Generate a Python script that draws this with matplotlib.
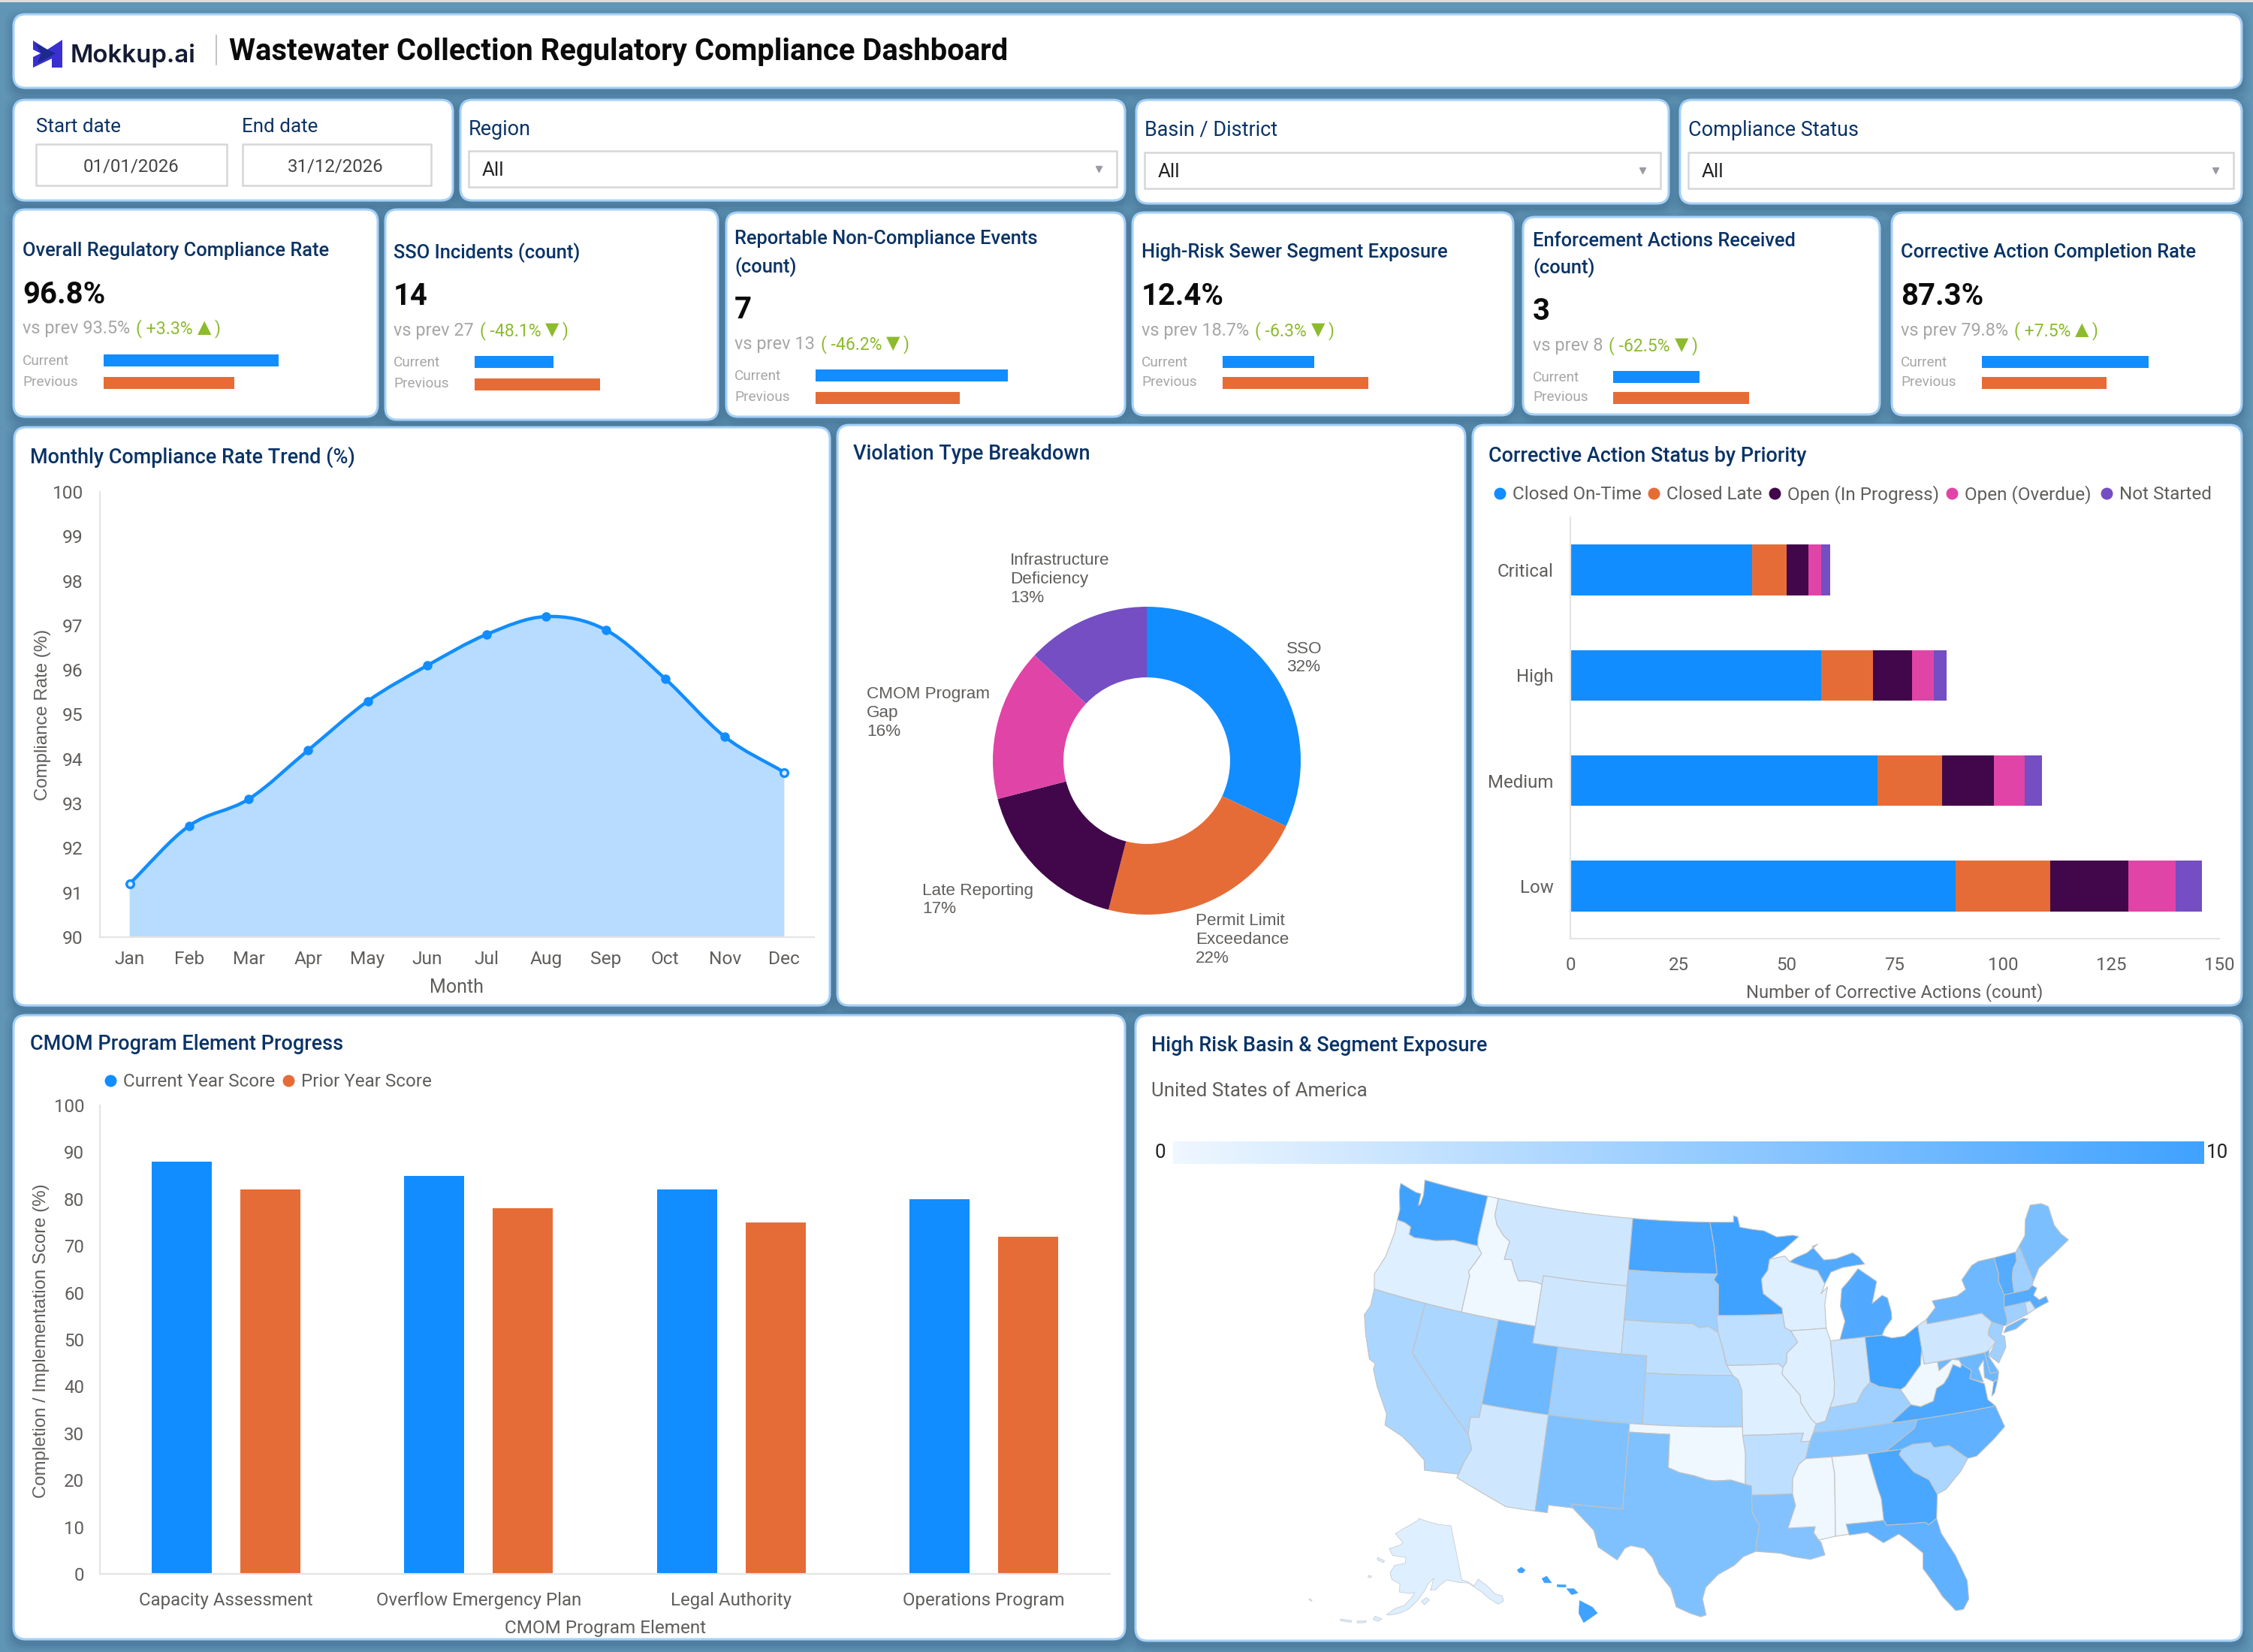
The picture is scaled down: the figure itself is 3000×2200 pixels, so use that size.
import math
import matplotlib
matplotlib.use("Agg")
import matplotlib.pyplot as plt
import numpy as np
from matplotlib.colors import LinearSegmentedColormap, Normalize
from matplotlib.patches import FancyBboxPatch, PathPatch, Polygon, Rectangle
from matplotlib.path import Path

W, H = 3000, 2200
PX = 0.72  # pixels to points at 100 dpi

BLUE, ORANGE, PLUM, PINK, VIOLET = "#118DFF", "#E66C37", "#41074A", "#E044A7", "#744EC2"
NAVY = "#0A3366"
GREY = "#605E5C"
PAGE = "#6195B6"

# ---------- chart data ----------
kpi_titles = [["Overall Regulatory Compliance Rate"], ["SSO Incidents (count)"],
              ["Reportable Non-Compliance Events", "(count)"], ["High-Risk Sewer Segment Exposure"],
              ["Enforcement Actions Received", "(count)"], ["Corrective Action Completion Rate"]]
kpi_current = [96.8, 14, 7, 12.4, 3, 87.3]
kpi_previous = [93.5, 27, 13, 18.7, 8, 79.8]
kpi_current_text = ["96.8%", "14", "7", "12.4%", "3", "87.3%"]
kpi_previous_text = ["vs prev 93.5%", "vs prev 27", "vs prev 13", "vs prev 18.7%", "vs prev 8", "vs prev 79.8%"]
kpi_delta_text = ["+3.3%", "-48.1%", "-46.2%", "-6.3%", "-62.5%", "+7.5%"]
kpi_delta_up = [True, False, False, False, False, True]
# each mini bar axis starts at its own origin and has its own scale
kpi_axis_origin = [83.77, -8.0, 31.0, 1.73, -5.71, 57.6]
kpi_axis_scale = [17.88, 4.77, -10.67, 11.43, 13.2, 7.47]

months = ["Jan", "Feb", "Mar", "Apr", "May", "Jun", "Jul", "Aug", "Sep", "Oct", "Nov", "Dec"]
compliance = [91.2, 92.5, 93.1, 94.2, 95.3, 96.1, 96.8, 97.2, 96.9, 95.8, 94.5, 93.7]

violation_labels = ["SSO", "Permit Limit\nExceedance", "Late Reporting", "CMOM Program\nGap", "Infrastructure\nDeficiency"]
violation_share = [32, 22, 17, 16, 13]

priorities = ["Critical", "High", "Medium", "Low"]
status_names = ["Closed On-Time", "Closed Late", "Open (In Progress)", "Open (Overdue)", "Not Started"]
closed_on_time = [42, 58, 71, 89]
closed_late = [8, 12, 15, 22]
open_in_progress = [5, 9, 12, 18]
open_overdue = [3, 5, 7, 11]
not_started = [2, 3, 4, 6]

cmom_elements = ["Capacity Assessment", "Overflow Emergency Plan", "Legal Authority", "Operations Program"]
current_year_score = [88, 85, 82, 80]
prior_year_score = [82, 78, 75, 72]

exposure = {
    "WA": 10, "OR": 1, "ID": 0, "MT": 1.9, "WY": 1.9, "ND": 9.6, "SD": 4.6, "NE": 2.8, "KS": 3.9, "CO": 4.6,
    "UT": 7.4, "NV": 3.9, "CA": 3.9, "AZ": 1.9, "NM": 6.4, "TX": 6.4, "OK": 0, "MN": 10, "IA": 2.8, "MO": 1,
    "AR": 2.8, "LA": 6.2, "WI": 1, "IL": 1, "IN": 1.9, "MI": 9, "MIU": 9, "OH": 10, "KY": 4.6, "TN": 6,
    "MS": 0, "AL": 0, "GA": 9.4, "FL": 8.2, "SC": 3.9, "NC": 8.2, "VA": 9.3, "VAE": 9.3, "WV": 0, "MD": 7.4,
    "DE": 7.4, "PA": 1.9, "NJ": 4.6, "NY": 7.4, "LI": 7.4, "CT": 4.6, "RI": 1.9, "MA": 8.8, "VT": 8.8,
    "NH": 4.6, "ME": 6.6, "AK": 1, "HI": 10,
}

# state outlines as (longitude, latitude)
states = {
    "WA": [(-124.7,48.4),(-123.2,48.15),(-122.75,48.15),(-122.68,47.45),(-122.55,47.55),(-122.5,48.1),(-122.6,48.5),(-122.75,49),(-117.03,49),(-117.04,46.42),(-116.92,45.99),(-118.98,46),(-119.3,45.93),(-120.5,45.7),(-121.2,45.65),(-122.25,45.55),(-122.75,45.65),(-122.8,46.1),(-123.4,46.25),(-124.05,46.27),(-124.1,46.9),(-124.6,47.9)],
    "OR": [(-124.05,46.27),(-123.4,46.25),(-122.8,46.1),(-122.75,45.65),(-122.25,45.55),(-121.2,45.65),(-120.5,45.7),(-119.3,45.93),(-118.98,46),(-116.92,45.99),(-116.46,45.6),(-116.85,44.95),(-117.2,44.4),(-117.03,44.2),(-117.03,42),(-124.2,42),(-124.55,42.85),(-124.1,44),(-123.95,45.5)],
    "ID": [(-117.03,49),(-116.05,49),(-116.05,48),(-115.7,47.45),(-114.95,46.9),(-114.35,46.65),(-114.5,45.55),(-113.9,45.6),(-113.45,44.95),(-113,44.45),(-112.3,44.55),(-111.5,44.55),(-111.05,44.48),(-111.05,42),(-117.03,42),(-117.03,44.2),(-117.2,44.4),(-116.85,44.95),(-116.46,45.6),(-116.92,45.99),(-117.04,46.42)],
    "MT": [(-116.05,49),(-104.05,49),(-104.05,45),(-111.05,45),(-111.05,44.48),(-111.5,44.55),(-112.3,44.55),(-113,44.45),(-113.45,44.95),(-113.9,45.6),(-114.5,45.55),(-114.35,46.65),(-114.95,46.9),(-115.7,47.45),(-116.05,48)],
    "WY": [(-111.05,45),(-104.05,45),(-104.05,41),(-111.05,41)],
    "ND": [(-104.05,49),(-97.23,49),(-96.85,47.6),(-96.56,45.94),(-104.05,45.94)],
    "SD": [(-104.05,45.94),(-96.56,45.94),(-96.85,45.6),(-96.45,45.3),(-96.45,43.5),(-96.6,43.5),(-96.45,42.49),(-97.2,42.85),(-98,42.77),(-98.5,43),(-104.05,43)],
    "NE": [(-104.05,43),(-98.5,43),(-98,42.77),(-97.2,42.85),(-96.45,42.49),(-96.1,41.6),(-95.85,40.7),(-95.31,40),(-102.05,40),(-102.05,41),(-104.05,41)],
    "CO": [(-109.05,41),(-102.05,41),(-102.05,37),(-109.05,37)],
    "KS": [(-102.05,40),(-95.31,40),(-94.9,39.75),(-94.61,39.1),(-94.62,37),(-102.05,37)],
    "UT": [(-114.05,42),(-111.05,42),(-111.05,41),(-109.05,41),(-109.05,37),(-114.05,37)],
    "NV": [(-120,42),(-114.05,42),(-114.05,36.2),(-114.7,36.1),(-114.6,35.1),(-120,39)],
    "CA": [(-124.2,42),(-120,42),(-120,39),(-114.6,35.1),(-114.15,34.3),(-114.5,33.5),(-114.72,32.72),(-117.12,32.53),(-117.3,33.1),(-118.4,33.75),(-119.2,34.15),(-120.6,34.55),(-120.7,35.2),(-121.9,36.6),(-122.5,37.5),(-122.5,37.85),(-123,38),(-123.8,39.3),(-124.35,40.4),(-124.1,41)],
    "AZ": [(-114.05,37),(-109.05,37),(-109.05,31.33),(-111.07,31.33),(-114.8,32.5),(-114.72,32.72),(-114.5,33.5),(-114.15,34.3),(-114.6,35.1),(-114.7,36.1),(-114.05,36.2)],
    "NM": [(-109.05,37),(-103,37),(-103.04,32),(-106.6,32),(-106.5,31.78),(-108.2,31.78),(-108.2,31.33),(-109.05,31.33)],
    "OK": [(-103,37),(-94.62,37),(-94.43,35.4),(-94.48,33.64),(-95.5,33.9),(-96.6,33.85),(-97.2,33.9),(-98.1,34.13),(-99.2,34.3),(-100,34.56),(-100,36.5),(-103,36.5)],
    "TX": [(-103,36.5),(-100,36.5),(-100,34.56),(-99.2,34.3),(-98.1,34.13),(-97.2,33.9),(-96.6,33.85),(-95.5,33.9),(-94.48,33.64),(-94.04,33.55),(-94.04,32),(-93.55,31.2),(-93.75,30.4),(-93.85,29.7),(-94.7,29.4),(-95.3,28.9),(-96.4,28.35),(-97.2,27.6),(-97.4,26.9),(-97.15,25.96),(-97.5,25.85),(-98.2,26.05),(-99.1,26.4),(-99.5,27.5),(-100.3,28.3),(-100.8,29.25),(-101.4,29.77),(-102.3,29.88),(-102.7,29.7),(-103.15,28.98),(-104.5,29.65),(-104.9,30.6),(-106.5,31.78),(-106.6,32),(-103.04,32)],
    "MN": [(-97.23,49),(-95.15,49),(-95.15,49.38),(-94.8,49.3),(-94.6,48.7),(-93.5,48.55),(-92.5,48.45),(-91.4,48.05),(-90,48.1),(-89.5,48),(-90.8,47.3),(-92.1,46.75),(-92.3,46.1),(-92.85,45.6),(-92.75,44.75),(-91.25,43.85),(-91.22,43.5),(-96.45,43.5),(-96.45,45.3),(-96.85,45.6),(-96.56,45.94),(-96.85,47.6)],
    "IA": [(-96.45,43.5),(-91.22,43.5),(-91.1,42.7),(-90.65,42.5),(-90.15,41.8),(-91.05,41.2),(-91.1,40.7),(-91.42,40.38),(-91.72,40.6),(-95.77,40.58),(-96.1,41.6),(-96.45,42.49),(-96.6,43.5)],
    "MO": [(-95.77,40.58),(-91.72,40.6),(-91.42,40.38),(-91.5,40),(-90.75,39.25),(-90.2,38.7),(-90.2,38.3),(-89.5,37.3),(-89.15,36.98),(-89.4,36.5),(-89.7,36),(-90.37,36),(-90.15,36.5),(-94.62,36.5),(-94.62,39.1),(-94.9,39.75),(-95.31,40)],
    "AR": [(-94.62,36.5),(-90.15,36.5),(-90.37,36),(-89.7,36),(-90.1,35),(-90.6,34.7),(-91.1,33.9),(-91.17,33),(-94.04,33),(-94.04,33.55),(-94.48,33.64),(-94.43,35.4)],
    "LA": [(-94.04,33),(-91.17,33),(-91,32.3),(-91.6,31),(-89.73,31),(-89.85,30.65),(-89.55,30.2),(-89.4,30.05),(-89.2,29.3),(-90.2,29.1),(-91.3,29.3),(-92.2,29.55),(-93.85,29.7),(-93.75,30.4),(-93.55,31.2),(-94.04,32)],
    "WI": [(-92.1,46.75),(-90.8,46.9),(-90.4,46.55),(-89.1,46.15),(-88.1,45.9),(-87.6,45.1),(-87.9,44.6),(-88,44.55),(-87.4,44.9),(-87.75,43.9),(-87.8,42.5),(-90.65,42.5),(-91.1,42.7),(-91.22,43.5),(-91.25,43.85),(-92.75,44.75),(-92.85,45.6),(-92.3,46.1)],
    "IL": [(-90.65,42.5),(-87.8,42.5),(-87.55,41.75),(-87.53,39.35),(-87.65,38.5),(-88.05,37.85),(-88.45,37.1),(-89.15,36.98),(-89.5,37.3),(-90.2,38.3),(-90.2,38.7),(-90.75,39.25),(-91.5,40),(-91.42,40.38),(-91.1,40.7),(-91.05,41.2),(-90.15,41.8)],
    "IN": [(-87.55,41.75),(-87.2,41.75),(-86.8,41.76),(-84.8,41.76),(-84.82,39.1),(-85.4,38.7),(-86,38),(-86.8,37.95),(-88.05,37.85),(-87.65,38.5),(-87.53,39.35)],
    "MI": [(-86.8,41.76),(-84.8,41.76),(-83.45,41.73),(-83.15,42.1),(-82.5,42.6),(-82.45,43),(-82.6,43.85),(-83,44.05),(-83.9,43.65),(-83.3,44.9),(-84.7,45.78),(-85.5,45.2),(-86.25,44.7),(-86.5,43.7),(-86.25,42.8)],
    "MIU": [(-90.4,46.55),(-89.1,46.15),(-88.1,45.9),(-87.6,45.1),(-87,45.75),(-86,45.95),(-84.8,46),(-84.1,46),(-84.5,46.45),(-85,46.75),(-86.5,46.5),(-87.5,46.5),(-88.4,47.35),(-87.9,47.47),(-88.9,47),(-89.9,46.75)],
    "OH": [(-84.8,41.76),(-83.45,41.73),(-82.7,41.5),(-81.7,41.5),(-80.52,42),(-80.52,40.64),(-80.8,39.7),(-81.7,39),(-82.2,38.6),(-82.6,38.45),(-83.3,38.6),(-84.2,38.8),(-84.82,39.1)],
    "KY": [(-88.05,37.85),(-86.8,37.95),(-86,38),(-85.4,38.7),(-84.82,39.1),(-84.2,38.8),(-83.3,38.6),(-82.6,38.45),(-82,37.5),(-83.68,36.6),(-88.07,36.5),(-89.4,36.5),(-89.15,36.98),(-88.45,37.1)],
    "TN": [(-90.1,35),(-89.7,36),(-89.4,36.5),(-88.07,36.5),(-83.68,36.6),(-81.68,36.59),(-82,36.1),(-84.3,35),(-85.6,34.98)],
    "MS": [(-90.1,35),(-88.2,35),(-88.1,34),(-88.4,30.35),(-89.55,30.2),(-89.85,30.65),(-89.73,31),(-91.6,31),(-91,32.3),(-91.17,33),(-91.1,33.9),(-90.6,34.7)],
    "AL": [(-88.2,35),(-85.6,34.98),(-85.15,32.85),(-85,32.3),(-85,31),(-87.6,31),(-87.45,30.4),(-88.4,30.35),(-88.1,34)],
    "GA": [(-85.6,34.98),(-83.1,35),(-83.35,34.7),(-82.5,33.6),(-81.5,33),(-81.1,32.1),(-81.4,30.7),(-82,30.4),(-82.2,30.57),(-84.85,30.7),(-85,31),(-85,32.3),(-85.15,32.85)],
    "FL": [(-87.6,31),(-85,31),(-84.85,30.7),(-82.2,30.57),(-82,30.4),(-81.4,30.7),(-81.25,29.8),(-80.55,28.4),(-80.05,26.8),(-80.15,25.7),(-80.6,25.15),(-81.1,25.15),(-81.8,26.1),(-82.2,26.9),(-82.8,27.9),(-82.65,28.8),(-83.6,29.7),(-84.1,30.1),(-85.2,29.7),(-86.2,30.4),(-87.45,30.35)],
    "SC": [(-83.1,35),(-82.3,35.2),(-81,35.15),(-80.8,34.82),(-79.7,34.8),(-78.55,33.86),(-79.2,33.2),(-80.45,32.3),(-81.1,32.1),(-81.5,33),(-82.5,33.6),(-83.35,34.7)],
    "NC": [(-84.3,35),(-82,36.1),(-81.68,36.59),(-75.85,36.55),(-75.5,35.25),(-76.5,34.65),(-77.9,33.9),(-78.55,33.86),(-79.7,34.8),(-80.8,34.82),(-81,35.15),(-82.3,35.2),(-83.1,35)],
    "VA": [(-83.68,36.6),(-82,37.5),(-81.3,37.3),(-80.3,37.5),(-79.9,38.2),(-79.3,38.4),(-78.87,38.77),(-78.35,39.4),(-77.83,39.13),(-77.7,39.32),(-77.05,38.85),(-77.3,38.4),(-76.3,37.95),(-76.3,37),(-75.85,36.55),(-81.68,36.59)],
    "VAE": [(-75.95,37.15),(-75.6,37.9),(-75.25,38.03),(-75.7,37.3)],
    "WV": [(-82.6,38.45),(-82.2,38.6),(-81.7,39),(-80.8,39.7),(-80.52,40.64),(-80.52,39.72),(-79.48,39.72),(-79.48,39.2),(-78.9,39.45),(-78.35,39.7),(-77.83,39.6),(-77.7,39.32),(-77.83,39.13),(-78.35,39.4),(-78.87,38.77),(-79.3,38.4),(-79.9,38.2),(-80.3,37.5),(-81.3,37.3),(-82,37.5)],
    "MD": [(-79.48,39.72),(-75.79,39.72),(-75.7,38.46),(-75.05,38.45),(-75.25,38.03),(-75.6,37.95),(-76.2,38.3),(-76,39.3),(-76.5,38.9),(-76.35,38.05),(-77.3,38.4),(-77.05,38.85),(-77.7,39.32),(-77.83,39.6),(-78.35,39.7),(-78.9,39.45),(-79.48,39.2)],
    "DE": [(-75.79,39.72),(-75.4,39.8),(-75.55,39.45),(-75.05,38.45),(-75.7,38.46)],
    "PA": [(-80.52,41.98),(-79.76,42.27),(-79.76,42),(-75.35,42),(-74.7,41.36),(-75.1,40.95),(-75.2,40.65),(-74.75,40.2),(-75.4,39.8),(-75.79,39.72),(-80.52,39.72),(-80.52,40.64)],
    "NJ": [(-74.7,41.36),(-73.9,41),(-74.25,40.5),(-74,40.4),(-74.1,39.75),(-74.9,38.95),(-75.5,39.5),(-74.75,40.2),(-75.2,40.65),(-75.1,40.95)],
    "NY": [(-79.76,42.27),(-78.9,42.85),(-79.05,43.27),(-77,43.28),(-76.2,43.55),(-76.35,44.15),(-75.3,44.85),(-74.7,45),(-73.35,45),(-73.3,44),(-73.45,43.6),(-73.27,42.75),(-73.5,42.05),(-73.5,41.3),(-73.65,41),(-73.9,41),(-74.7,41.36),(-75.35,42),(-79.76,42)],
    "LI": [(-74,40.6),(-73.7,40.9),(-72.3,41.15),(-71.9,41.05),(-73,40.65)],
    "CT": [(-73.5,42.05),(-71.8,42.02),(-71.85,41.32),(-73.65,41),(-73.5,41.3)],
    "RI": [(-71.8,42.02),(-71.38,42.02),(-71.15,41.5),(-71.85,41.32)],
    "MA": [(-73.5,42.05),(-73.27,42.75),(-71.3,42.7),(-70.9,42.88),(-70.6,42.65),(-71,42.3),(-70.65,41.95),(-70.05,42.05),(-70,41.7),(-70.6,41.6),(-71.15,41.5),(-71.38,42.02),(-71.8,42.02)],
    "VT": [(-73.35,45),(-71.5,45.01),(-71.6,44.5),(-72.05,44.1),(-72.3,43.6),(-72.46,42.73),(-73.27,42.75),(-73.45,43.6),(-73.3,44)],
    "NH": [(-71.5,45.01),(-71.1,45.3),(-70.7,43.1),(-70.9,42.88),(-71.3,42.7),(-72.46,42.73),(-72.3,43.6),(-72.05,44.1),(-71.6,44.5)],
    "ME": [(-71.1,45.3),(-70.4,45.8),(-70,46.7),(-69.25,47.45),(-68.3,47.35),(-67.8,47.07),(-67.78,45.9),(-67.45,45.3),(-67,44.85),(-68.5,44.3),(-70,43.75),(-70.7,43.1)],
}
alaska_parts = [
    [(-141,69.65),(-141,60.3),(-139.5,60),(-137.5,58.9),(-135.5,59.8),(-133.5,58.4),(-131.8,56.6),(-130,55.9),(-130.2,55),(-132,54.8),(-134,56.2),(-135.5,57.5),(-136.8,58.3),(-139,59.6),(-142,60),(-146,60.7),(-148.5,60),(-150,59.3),(-151.8,59.2),(-150.5,61.2),(-152.5,60.3),(-153.9,59),(-156,57.5),(-158.5,56),(-161,55.2),(-163.5,54.7),(-164.8,54.6),(-162.5,55.9),(-160,56.5),(-158,57.8),(-157,58.8),(-158.8,58.6),(-162,58.7),(-162,60),(-165,60.6),(-166,61.7),(-164.8,63),(-161,63.6),(-161,64.6),(-166.3,64.6),(-168.1,65.6),(-164,66.5),(-163,67),(-166.8,68.3),(-163,69.5),(-157,71),(-156.5,71.35),(-152,70.8),(-146,70.1)],
    [(-154.7,57.4),(-153.2,58),(-152.2,57.6),(-153.8,56.8)],
    [(-168,54),(-166,53.8),(-166.8,53.3),(-168.3,53.4)],
    [(-172.5,52.5),(-170,52.9),(-170.2,52.6),(-172.3,52.2)],
    [(-177,51.95),(-174,52.3),(-174,52),(-176.8,51.7)],
    [(-173,60.4),(-172,60.4),(-172.2,60.1),(-173.1,60.1)],
    [(-171.7,63.7),(-168.8,63.4),(-169.2,63.1),(-171.6,63.3)],
    [(-187,52.95),(-186.2,52.95),(-186.2,52.75),(-187,52.75)],
]
hawaii_parts = [
    [(-155.9,20.25),(-155.1,19.85),(-154.8,19.5),(-155.65,18.95),(-155.95,19.5)],
    [(-156.7,20.95),(-156.25,20.95),(-156,20.7),(-156.4,20.6)],
    [(-157.3,21.2),(-156.75,21.18),(-156.75,21.05),(-157.3,21.07)],
    [(-158.25,21.55),(-157.95,21.7),(-157.65,21.3),(-158.1,21.3)],
    [(-159.8,22.05),(-159.55,22.22),(-159.3,22.05),(-159.45,21.88),(-159.7,21.9)],
]


def albers(lon, lat, lon0, lat0, p1, p2):
    n = (math.sin(math.radians(p1)) + math.sin(math.radians(p2))) / 2
    c = math.cos(math.radians(p1)) ** 2 + 2 * n * math.sin(math.radians(p1))
    rho = math.sqrt(c - 2 * n * math.sin(math.radians(lat))) / n
    rho0 = math.sqrt(c - 2 * n * math.sin(math.radians(lat0))) / n
    theta = n * math.radians(lon - lon0)
    return rho * math.sin(theta), rho0 - rho * math.cos(theta)


def densify(ring, step=1.0):
    out = []
    for (a, b), (c, d) in zip(ring, ring[1:] + ring[:1]):
        k = max(1, int(max(abs(c - a), abs(d - b)) / step))
        out += [(a + (c - a) * i / k, b + (d - b) * i / k) for i in range(k)]
    return out


# ---------- figure and page layer in pixel coordinates ----------
fig = plt.figure(figsize=(30, 22), dpi=100, facecolor=PAGE)
ov = fig.add_axes([0, 0, 1, 1], zorder=0)
ov.set_xlim(0, W)
ov.set_ylim(H, 0)
ov.axis("off")
renderer = fig.canvas.get_renderer()


def sub_axes(x0, y0, x1, y1, **kw):
    ax = fig.add_axes([x0 / W, 1 - y1 / H, (x1 - x0) / W, (y1 - y0) / H], zorder=2, **kw)
    ax.patch.set_alpha(0)
    return ax


def label(x, y, s, px=25, color=GREY, weight="normal", family="Roboto", ha="left", va="center", rotation=0, z=5):
    return ov.text(x, y + 1.5, s, fontsize=px * PX, color=color, fontweight=weight, family=family,
                   ha=ha, va=va, rotation=rotation, zorder=z)


def card(x0, y0, x1, y1):
    for grow, alpha in [(12, .05), (9, .06), (6, .08), (3, .10)]:
        ov.add_patch(FancyBboxPatch((x0 - grow, y0 - grow + 6), x1 - x0 + 2 * grow, y1 - y0 + 2 * grow,
                                    boxstyle="round,pad=0,rounding_size=20", fc="#1F4A68", ec="none", alpha=alpha, zorder=1))
    ov.add_patch(FancyBboxPatch((x0, y0), x1 - x0, y1 - y0, boxstyle="round,pad=0,rounding_size=16",
                                fc="white", ec="#A6D0F7", lw=2.2, zorder=2))


def box(x0, y0, x1, y1):
    ov.add_patch(Rectangle((x0, y0), x1 - x0, y1 - y0, fc="white", ec="#D6D6D6", lw=1.8, zorder=3))


def smooth_path(xs, ys):
    xs, ys = np.asarray(xs, float), np.asarray(ys, float)
    slope = np.gradient(ys, xs)
    verts, codes = [(xs[0], ys[0])], [Path.MOVETO]
    for i in range(len(xs) - 1):
        h = (xs[i + 1] - xs[i]) / 3
        verts += [(xs[i] + h, ys[i] + slope[i] * h), (xs[i + 1] - h, ys[i + 1] - slope[i + 1] * h), (xs[i + 1], ys[i + 1])]
        codes += [Path.CURVE4] * 3
    return verts, codes


def style_axis(ax, tick_px=25):
    for s in ("top", "right"):
        ax.spines[s].set_visible(False)
    for s in ("left", "bottom"):
        ax.spines[s].set_color("#E4E4E4")
        ax.spines[s].set_linewidth(1.6)
    ax.tick_params(length=0, labelsize=tick_px * PX, labelcolor=GREY)
    for t in ax.get_xticklabels() + ax.get_yticklabels():
        t.set_family("Roboto")


# ---------- header ----------
ov.add_patch(Rectangle((0, 0), W, 3, fc="#DDDDDD", ec="none", zorder=0))
card(18, 19, 2985, 117)
ov.add_patch(Polygon([(44, 54), (63, 66), (83, 53), (83, 90), (69, 90), (69, 78), (44, 90), (44, 76), (54, 71), (44, 66)],
                     fc="#3A2FD0", ec="none", zorder=4))
ov.add_patch(Polygon([(47, 58), (63, 66), (74, 71), (62, 78), (50, 84), (55, 71)], fc="#1B2A8C", ec="none", zorder=4))
label(94, 72, "Mokkup.ai", 33, "#141B34", "semibold", "Inter")
ov.plot([288, 288], [47, 86], color="#B8B8B8", lw=1.2, zorder=4)
label(305, 68, "Wastewater Collection Regulatory Compliance Dashboard", 40, "#0B0B0B", "bold")

# ---------- filters ----------
card(18, 133, 603, 267)
card(613, 133, 1498, 267)
card(1513, 133, 2222, 271)
card(2237, 133, 2985, 271)
label(48, 167, "Start date", 26, NAVY)
label(322, 167, "End date", 26, NAVY)
box(48, 192, 302, 247)
box(323, 192, 574, 247)
label(175, 220, "01/01/2026", 24, "#444444", ha="center")
label(447, 220, "31/12/2026", 24, "#444444", ha="center")
for lx, ly, name, bx0, by0, bx1, by1 in [(624, 171, "Region", 624, 201, 1487, 249),
                                         (1524, 172, "Basin / District", 1524, 203, 2211, 251),
                                         (2248, 172, "Compliance Status", 2248, 203, 2974, 251)]:
    label(lx, ly, name, 27, NAVY)
    box(bx0, by0, bx1, by1)
    label(bx0 + 18, (by0 + by1) / 2, "All", 26, "#222222")
    ov.plot([bx1 - 24], [(by0 + by1) / 2], marker="v", ms=6, color="#9A9AA5", zorder=5)

# ---------- KPI cards ----------
kpi_rects = [(18, 279, 503, 555), (513, 279, 956, 559), (967, 283, 1498, 555),
             (1508, 283, 2015, 553), (2028, 289, 2503, 552), (2519, 283, 2985, 553)]
kpi_text_x = [30, 524, 978, 1520, 2041, 2531]
kpi_bar_x = [138, 632, 1086, 1628, 2148, 2639]
kpi_title_y = [[333], [335], [317, 354], [335], [320, 355], [335]]
kpi_value_y = [392, 393, 411, 393, 413, 393]
kpi_vs_y = [436, 439, 457, 439, 459, 439]
kpi_cur_y = [480, 482, 500, 482, 502, 482]
kpi_prev_y = [510, 512, 530, 510, 530, 510]
BAR_TRACK = 300
for i, rect in enumerate(kpi_rects):
    card(*rect)
    tx = kpi_text_x[i]
    for line, y in zip(kpi_titles[i], kpi_title_y[i]):
        label(tx, y, line, 25.5, NAVY, "medium")
    label(tx, kpi_value_y[i], kpi_current_text[i], 40, "#0B0B0B", "bold")
    t = label(tx, kpi_vs_y[i], kpi_previous_text[i], 23.5, "#A6A6A6")
    xnext = t.get_window_extent(renderer).x1 + 8
    t = label(xnext, kpi_vs_y[i], "( " + kpi_delta_text[i] + " ", 23, "#8DBB2E")
    xnext = t.get_window_extent(renderer).x1
    t = ov.text(xnext, kpi_vs_y[i], "▲" if kpi_delta_up[i] else "▼", fontsize=24 * PX, color="#8DBB2E",
                family="DejaVu Sans", ha="left", va="center", zorder=5)
    xnext = t.get_window_extent(renderer).x1 + 4
    label(xnext, kpi_vs_y[i], ")", 23, "#8DBB2E")
    label(tx, kpi_cur_y[i], "Current", 19, "#A6A6A6")
    label(tx, kpi_prev_y[i] - 2, "Previous", 19, "#A6A6A6")
    # the two bars share one value axis; each is 16 px tall on a 30 px row pitch
    ax = sub_axes(kpi_bar_x[i], kpi_cur_y[i] - 8, kpi_bar_x[i] + BAR_TRACK, kpi_prev_y[i] + 8)
    origin, scale = kpi_axis_origin[i], kpi_axis_scale[i]
    ax.set_xlim(origin, origin + BAR_TRACK / scale)
    ax.set_ylim(kpi_prev_y[i] - kpi_cur_y[i] + 8, -8)
    ax.barh([0, kpi_prev_y[i] - kpi_cur_y[i]], [kpi_current[i] - origin, kpi_previous[i] - origin],
            left=origin, height=16, color=[BLUE, ORANGE])
    ax.axis("off")

# ---------- monthly compliance trend ----------
card(19, 569, 1105, 1339)
label(40, 607, "Monthly Compliance Rate Trend (%)", 27, NAVY, "medium")
ax = sub_axes(133, 655, 1084, 1248)
xs = np.arange(len(months))
verts, codes = smooth_path(xs, compliance)
ax.add_patch(PathPatch(Path(verts + [(xs[-1], 90), (xs[0], 90), verts[0]], codes + [Path.LINETO, Path.LINETO, Path.CLOSEPOLY]),
                       fc="#B7DCFF", ec="none"))
ax.add_patch(PathPatch(Path(verts, codes), fc="none", ec=BLUE, lw=3.2, capstyle="round"))
ax.plot(xs[1:-1], compliance[1:-1], "o", ms=8, color=BLUE, zorder=4, clip_on=False)
ax.plot(xs[[0, -1]], np.array(compliance)[[0, -1]], "o", ms=7, mfc="#DDEEFF", mec=BLUE, mew=2.4, zorder=4, clip_on=False)
ax.set_xlim(-.5, 11.5)
ax.set_ylim(90, 100)
ax.set_yticks(range(90, 101))
ax.set_xticks(xs, months)
style_axis(ax, 24.5)
ax.tick_params(axis="x", pad=13)
ax.tick_params(axis="y", pad=16)
label(57, 950, "Compliance Rate (%)", 24, GREY, family="Liberation Sans", ha="center", rotation=90)
label(608, 1313, "Month", 25, GREY, ha="center")

# ---------- violation donut ----------
card(1115, 566, 1951, 1339)
label(1136, 603, "Violation Type Breakdown", 27, NAVY, "medium")
ax = sub_axes(1322, 808, 1732, 1218)
ax.pie(violation_share, startangle=90, counterclock=False, radius=1,
       colors=[BLUE, ORANGE, PLUM, PINK, VIOLET], wedgeprops=dict(width=1 - 110.8 / 204.8))
ax.set_xlim(-1, 1)
ax.set_ylim(-1, 1)
donut_label_pos = [(1713, 875), (1592, 1250), (1228, 1197), (1154, 948), (1345, 770)]
for name, share, (lx, ly) in zip(violation_labels, violation_share, donut_label_pos):
    label(lx, ly, f"{name}\n{share}%", 22.5, GREY, family="Liberation Sans").set_linespacing(1.22)

# ---------- corrective action status ----------
card(1961, 566, 2985, 1339)
label(1982, 606, "Corrective Action Status by Priority", 27, NAVY, "medium")
legend_dot_x = [1997, 2202, 2363, 2599, 2805]
status_colors = [BLUE, ORANGE, PLUM, PINK, VIOLET]
for name, color, dx in zip(status_names, status_colors, legend_dot_x):
    ov.plot([dx], [657], "o", ms=10.5, color=color, zorder=5)
    label(dx + 17, 657, name, 24.3)
ax = sub_axes(2091, 689, 2955, 1250)
y_pos = np.arange(len(priorities))
left = np.zeros(len(priorities))
for vals, color in zip([closed_on_time, closed_late, open_in_progress, open_overdue, not_started], status_colors):
    ax.barh(y_pos, vals, left=left, height=.48, color=color)
    left += np.array(vals)
ax.set_xlim(0, 150)
ax.set_ylim(3.5, -.5)
ax.set_yticks(y_pos, priorities)
ax.set_xticks(range(0, 151, 25))
style_axis(ax, 24)
ax.tick_params(axis="x", pad=17)
ax.tick_params(axis="y", pad=16)
label(2523, 1320, "Number of Corrective Actions (count)", 23.8, GREY, ha="center")

# ---------- CMOM progress ----------
card(18, 1352, 1498, 2183)
label(40, 1389, "CMOM Program Element Progress", 27, NAVY, "medium")
for dx, name, color in [(147, "Current Year Score", BLUE), (384, "Prior Year Score", ORANGE)]:
    ov.plot([dx], [1439], "o", ms=10.5, color=color, zorder=5)
    label(dx + 17, 1439, name, 24.3)
ax = sub_axes(133, 1472, 1478, 2096)
xpos = np.arange(len(cmom_elements))
ax.bar(xpos - 59 / 336, current_year_score, width=80 / 336, color=BLUE)
ax.bar(xpos + 59 / 336, prior_year_score, width=80 / 336, color=ORANGE)
ax.set_xlim(-.5, 3.5)
ax.set_ylim(0, 100)
ax.set_yticks(range(0, 101, 10))
ax.set_xticks(xpos, cmom_elements)
style_axis(ax, 24)
ax.tick_params(axis="x", pad=17)
ax.tick_params(axis="y", pad=15)
label(55, 1784, "Completion / Implementation Score (%)", 24, GREY, family="Liberation Sans", ha="center", rotation=90)
label(806, 2167, "CMOM Program Element", 24.3, GREY, ha="center")

# ---------- exposure map ----------
card(1512, 1352, 2985, 2185)
label(1533, 1391, "High Risk Basin & Segment Exposure", 27, NAVY, "medium")
label(1533, 1451, "United States of America", 26, GREY)
cmap = LinearSegmentedColormap.from_list("exposure", ["#EFF7FF", "#40A2FF"])
norm = Normalize(0, 10)
cb = sub_axes(1562, 1520, 2935, 1550)
cb.imshow(np.linspace(0, 10, 512)[None, :], cmap=cmap, norm=norm, aspect="auto", extent=(0, 10, 0, 1))
cb.axis("off")
label(1545, 1533, "0", 26, "#222222", ha="center")
label(2953, 1533, "10", 26, "#222222", ha="center")

SCALE_X, SCALE_Y = 1301, 1297


def to_px(x, y):
    return 1865 + (x + .3309) * SCALE_X, 1576 + (.2412 - y) * SCALE_Y


def draw_ring(pts, value, lw=0.8, edge="#C2C2C2"):
    ov.add_patch(Polygon(pts, closed=True, fc=cmap(norm(value)), ec=edge, lw=lw, joinstyle="round", zorder=4))


for name, ring in states.items():
    pts = [to_px(*albers(lo, la, -96, 37.5, 29.5, 45.5)) for lo, la in densify(ring)]
    draw_ring(pts, exposure[name])

# Alaska and Hawaii are inset at the foot of the map
ak = [[albers(lo, la, -154, 58.5, 55, 65) for lo, la in densify(p, 2)] for p in alaska_parts]
ak_main = np.array(ak[0])
ak_dx = 2002 - ak_main[:, 0].max() * SCALE_X * .35
ak_dy = 2022 + ak_main[:, 1].max() * SCALE_Y * .35
for part in ak:
    draw_ring([(ak_dx + x * SCALE_X * .35, ak_dy - y * SCALE_Y * .35) for x, y in part], exposure["AK"], lw=.6, edge="#C8CDD4")
hi = [[albers(lo, la, -157, 19.9, 8, 18) for lo, la in p] for p in hawaii_parts]
hi_all = np.vstack(hi)
hi_dx = 2127 - hi_all[:, 0].max() * SCALE_X
hi_dy = 2087 + hi_all[:, 1].max() * SCALE_Y
for part in hi:
    draw_ring([(hi_dx + x * SCALE_X, hi_dy - y * SCALE_Y) for x, y in part], exposure["HI"], lw=.4, edge="#40A2FF")

fig.savefig("out.png", dpi=100, facecolor=PAGE)
